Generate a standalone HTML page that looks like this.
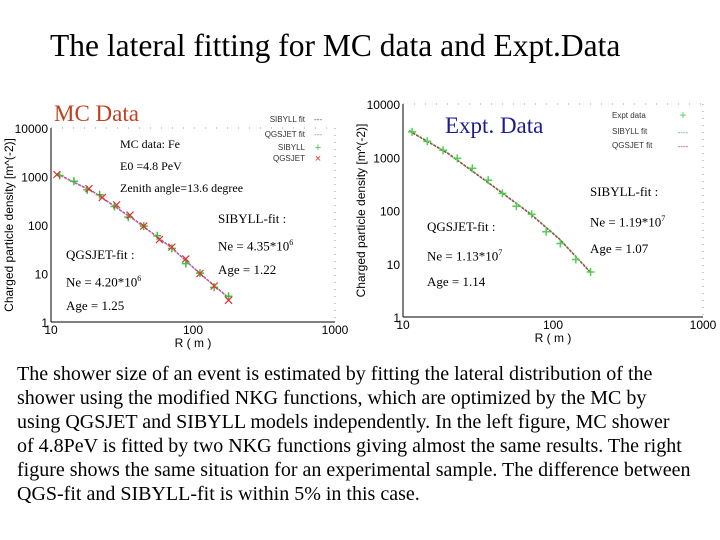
<!DOCTYPE html>
<html><head><meta charset="utf-8"><style>
body{margin:0;width:720px;height:540px;background:#fff;overflow:hidden;position:relative;font-family:"Liberation Serif",serif}
.t{position:absolute;white-space:nowrap}
</style></head><body>
<div class="t" style="left:50px;top:28px;font-size:31.5px;color:#000">The lateral fitting for MC data and Expt.Data</div>
<svg width="720" height="350" style="position:absolute;left:0;top:0" id="svg"></svg>
<div class="t" style="left:17px;top:362px;font-size:20px;line-height:24px;color:#000">The shower size of an event is estimated by fitting the lateral distribution of the<br>shower using the modified NKG functions, which are optimized by the MC by<br>using QGSJET and SIBYLL models independently. In the left figure, MC shower<br>of 4.8PeV is fitted by two NKG functions giving almost the same results. The right<br>figure shows the same situation for an experimental sample. The difference between<br>QGS-fit and SIBYLL-fit is within 5% in this case.</div>
<script>
// Left (MC) chart data
const mcSibR=[11.5,14.5,18,22,28,35,45,56,71,89,112,141,178];
const mcSibV=[1050,800,530,420,240,145,95,60,33,16,10.2,5.2,3.4];
const mcQgsR=[11,18.5,23,29,36,45,58,71,89,112,141,178];
const mcQgsV=[1100,560,370,260,160,95,50,35,20,10,5.5,2.8];
const mcFitR=[11,20,40,70,110,180];
const mcFitV=[1150,480,120,35,10.5,3.1];
// Right (Expt) chart data
const exR=[11.5,14.5,18.5,23,29,37,46,57,72,90,112,142,178];
const exV=[3000,2000,1350,950,620,370,210,120,85,40,24,12,7];
const exFitR=[11,20,40,70,110,180];
const exFitV=[3200,1200,290,90,30,6.8];
const xTicks=[10,100,1000];
const yTicks=[1,10,100,1000,10000];

const svg=document.getElementById('svg');
const NS='http://www.w3.org/2000/svg';
function mk(tag,at,parent){const e=document.createElementNS(NS,tag);for(const k in at)e.setAttribute(k,at[k]);(parent||svg).appendChild(e);return e;}
function txt(x,y,s,size,fill,fam,anchor,rot){const e=mk('text',{x:x,y:y,'font-size':size,fill:fill||'#000','font-family':fam||'Liberation Sans, sans-serif','text-anchor':anchor||'start'});if(rot)e.setAttribute('transform',`rotate(-90 ${x} ${y})`);e.textContent=s;return e;}
function axes(x0,x1,y1,y0){
 const X=r=>x0+(Math.log10(r)-1)/2*(x1-x0);
 const Y=v=>y1-Math.log10(v)/4*(y1-y0);
 return {X,Y};
}
function frame(name,A,x0,x1,y1,y0){
 const g=mk('g',{});
 mk('line',{x1:x0,y1:y0,x2:x0,y2:y1,stroke:'#000','stroke-width':1},g);
 mk('line',{x1:x0,y1:y1,x2:x1,y2:y1,stroke:'#000','stroke-width':1},g);
 mk('line',{x1:x1,y1:y0,x2:x1,y2:y1,stroke:'#999','stroke-width':1,'stroke-dasharray':'1,6'},g);
 mk('line',{x1:x0,y1:y0,x2:x1,y2:y0,stroke:'#999','stroke-width':1,'stroke-dasharray':'1,10'},g);
 xTicks.forEach(t=>{const e=txt(A.X(t),y1+12,String(t),12,'#000',null,'middle');});
 yTicks.forEach(t=>{const e=txt(x0-3,A.Y(t)+5,String(t),12,'#000',null,'end');});
 const xt=txt((x0+x1)/2,y1+25,'R  ( m )',12,'#000',null,'middle');
 const yt=txt(x0-38,(y0+y1)/2,'Charged  particle  density  [m^(-2)]',12,'#000',null,'middle',true);
}
function line(A,R,V,col,name){const p=mk('polyline',{points:R.map((r,i)=>A.X(r)+','+A.Y(V[i])).join(' '),fill:'none',stroke:col,'stroke-width':1.2,'stroke-dasharray':'3,1'});}
function plus(A,R,V,col,name){R.forEach((r,i)=>{const x=A.X(r),y=A.Y(V[i]);const e=mk('path',{d:`M${x-4},${y}h8M${x},${y-4}v8`,stroke:col,'stroke-width':1.5});});}
function cross(A,R,V,col,name){R.forEach((r,i)=>{const x=A.X(r),y=A.Y(V[i]);const e=mk('path',{d:`M${x-3.5},${y-3.5}l7,7M${x-3.5},${y+3.5}l7,-7`,stroke:col,'stroke-width':1.2});});}

const L=axes(51,335,322,128);
frame('mc',L,51,335,322,128);
line(L,mcFitR,mcFitV,'#4040a0','mc-sibyll-fit-line');
line(L,mcFitR,mcFitV.map(v=>v*0.98),'#d060a0','mc-qgs-fit-line');
plus(L,mcSibR,mcSibV,'#40c040','mc-sibyll-point');
cross(L,mcQgsR,mcQgsV,'#e03030','mc-qgs-point');
const Rr=axes(403,703,317,104);
frame('expt',Rr,403,703,317,104);
line(Rr,exFitR,exFitV,'#60b060','expt-sibyll-fit-line');
line(Rr,exFitR,exFitV.map(v=>v*0.97),'#a04040','expt-qgs-fit-line');
plus(Rr,exR,exV,'#50d050','expt-data-point');

[['SIBYLL fit','---',122],['QGSJET fit','---',137],['SIBYLL','+',150],['QGSJET','×',161]].forEach((l,i)=>{
 const e=txt(305,l[2],l[0],8,'#333','Liberation Sans, sans-serif','end');
 const s=txt(318,l[2]+(i>1?1:0),l[1],i>1?11:8,i==0?'#4040a0':i==1?'#d060a0':i==2?'#40c040':'#e03030','Liberation Sans, sans-serif','middle');
});
[['Expt data','+',118,'#50d050'],['SIBYLL fit','----',134,'#60b060'],['QGSJET fit','----',148,'#a04040']].forEach(l=>{
 const e=txt(612,l[2],l[0],8,'#333','Liberation Sans, sans-serif','start');
 const s=txt(683,l[2]+1,l[1],l[1]=='+'?12:8,l[3],'Liberation Sans, sans-serif','middle');
});
</script>
<div class="t" style="left:54px;top:101px;font-size:23px;color:#c04020">MC Data</div>
<div class="t" style="left:445px;top:113px;font-size:23px;color:#1c1c90">Expt. Data</div>
<div class="t" style="left:120px;top:137px;font-size:12px">MC data: Fe</div>
<div class="t" style="left:120px;top:159px;font-size:12px">E0 =4.8 PeV</div>
<div class="t" style="left:120px;top:181px;font-size:12px">Zenith angle=13.6 degree</div>
<div class="t" style="left:218px;top:207px;font-size:13px;line-height:24px">SIBYLL-fit :<br>Ne = 4.35*10<sup style="font-size:8px">6</sup><br>Age = 1.22</div>
<div class="t" style="left:66px;top:243px;font-size:13px;line-height:24px">QGSJET-fit :<br>Ne = 4.20*10<sup style="font-size:8px">6</sup><br>Age = 1.25</div>
<div class="t" style="left:590px;top:178px;font-size:13px;line-height:27px">SIBYLL-fit :<br>Ne = 1.19*10<sup style="font-size:8px">7</sup><br>Age = 1.07</div>
<div class="t" style="left:427px;top:214px;font-size:13px;line-height:26px">QGSJET-fit :<br>Ne = 1.13*10<sup style="font-size:8px">7</sup><br>Age = 1.14</div>
</body></html>
